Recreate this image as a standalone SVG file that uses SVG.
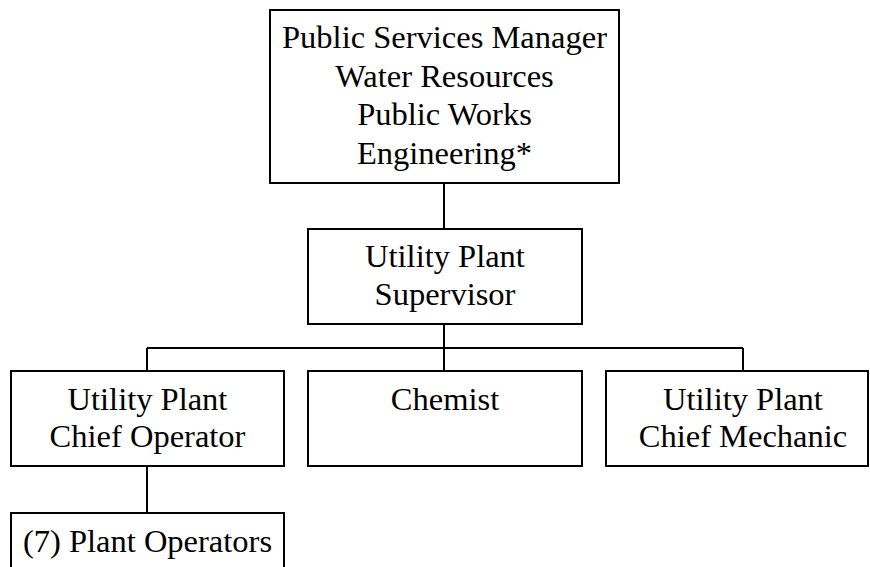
<svg xmlns="http://www.w3.org/2000/svg" width="870" height="567" viewBox="0 0 870 567">
<style>
.box{fill:#fff;stroke:#000;stroke-width:2}
text{font-family:'Times New Roman','Liberation Serif',Tinos,'Nimbus Roman','Nimbus Roman No9 L','FreeSerif','Noto Serif','DejaVu Serif',Times,serif;font-size:32.5px;fill:#000;text-anchor:middle}
.c{fill:none;stroke:#000;stroke-width:2}
</style>
<rect width="870" height="567" fill="#fff"/>
<g id="connectors">
<path class="c" d="M444 183V229M444 324V348M147 348H743M147 348V371M444 348V371M743 348V371M147 466V513"/>
</g>
<g id="manager">
<rect class="box" x="270" y="10" width="349" height="173"/>
<text x="444.5" y="48">Public Services Manager</text>
<text x="444.5" y="86.5">Water Resources</text>
<text x="444.5" y="125">Public Works</text>
<text x="444.5" y="163.5">Engineering*</text>
</g>
<g id="supervisor">
<rect class="box" x="308" y="229" width="274" height="95"/>
<text x="445" y="267">Utility Plant</text>
<text x="445" y="305">Supervisor</text>
</g>
<g id="chief-operator">
<rect class="box" x="11" y="371" width="273" height="95"/>
<text x="147.5" y="410">Utility Plant</text>
<text x="147.5" y="447">Chief Operator</text>
</g>
<g id="chemist">
<rect class="box" x="308" y="371" width="274" height="95"/>
<text x="445" y="410">Chemist</text>
</g>
<g id="chief-mechanic">
<rect class="box" x="606" y="371" width="262" height="95"/>
<text x="743" y="410">Utility Plant</text>
<text x="743" y="447">Chief Mechanic</text>
</g>
<g id="plant-operators">
<rect class="box" x="11" y="513" width="273" height="70"/>
<text x="147.5" y="552">(7) Plant Operators</text>
</g>
</svg>
